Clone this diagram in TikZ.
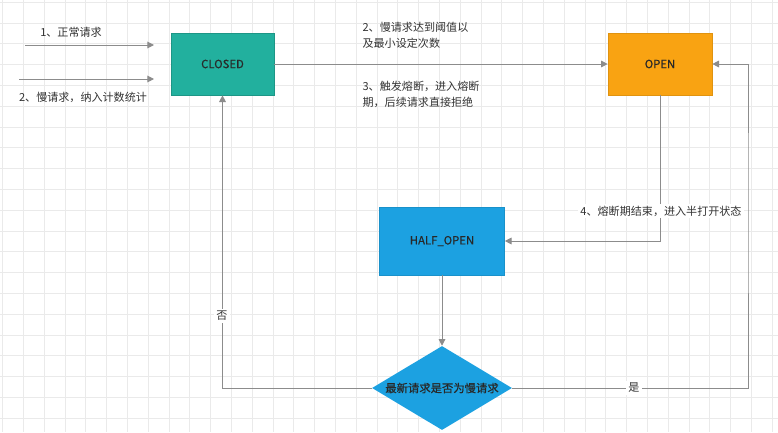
\documentclass[tikz,border=0pt]{standalone}
\usepackage{fontspec}
\setmainfont{Noto Sans CJK SC}
\newfontfamily\boxfont{Noto Sans CJK SC}[FakeBold=0.5]
\usetikzlibrary{shapes.geometric,arrows.meta}
\definecolor{gridc}{RGB}{234,234,234}
\definecolor{linec}{RGB}{140,140,140}
\definecolor{textc}{RGB}{51,51,51}
\definecolor{boxtextc}{RGB}{40,40,40}
\definecolor{closedc}{RGB}{34,176,158}
\definecolor{openc}{RGB}{249,163,18}
\definecolor{bluec}{RGB}{28,161,225}
\tikzset{
  gridline/.style={gridc, line width=0.6pt},
  conn/.style={linec, line width=0.75pt, -{Triangle[length=5pt,width=5pt]}},
  statebox/.style={rectangle, inner sep=0pt, text=boxtextc, font=\boxfont\fontsize{8.5pt}{10pt}\selectfont, line width=0.5pt},
  lbl/.style={text=textc, font=\fontsize{8.3pt}{12pt}\selectfont, inner sep=1pt},
  onlinelbl/.style={lbl, fill=white, inner sep=1.5pt},
}
\begin{document}
\begin{tikzpicture}[x=0.75pt, y=-0.75pt]
\useasboundingbox (0,0) rectangle (778,432);
\fill[white] (0,0) rectangle (778,432);
% grid
\foreach \i in {0,...,37} {
  \draw[gridline] ({2.5+20.8*\i},0) -- ({2.5+20.8*\i},432);
}
\foreach \j in {0,...,20} {
  \draw[gridline] (0,{2.1+20.8*\j}) -- (778,{2.1+20.8*\j});
}
% states
\node[statebox, fill=closedc, draw=closedc!85!black, minimum width=77.25pt, minimum height=46.5pt] (closed) at (222.5,64) {CLOSED};
\node[statebox, fill=openc, draw=openc!90!black, minimum width=78pt, minimum height=46.5pt] (open) at (660,64) {OPEN};
\node[statebox, fill=bluec, draw=bluec!90!black, minimum width=93.75pt, minimum height=51pt] (half) at (442,241) {HALF\_OPEN};
\node[diamond, fill=bluec, inner sep=0pt, minimum width=105pt, minimum height=63pt] (dec) at (442,388) {};
\node[text=boxtextc, font=\boxfont\fontsize{8.5pt}{10pt}\selectfont, inner sep=0pt] (dectext) at (dec.center) {最新请求是否为慢请求};
% inputs
\coordinate (in1s) at (25,45);
\coordinate (in1e) at (154,45);
\coordinate (in2s) at (19,79);
\coordinate (in2e) at (154,79);
\draw[conn] (in1s) -- (in1e);
\draw[conn] (in2s) -- (in2e);
\node[lbl] (l1) at (71,32) {1、正常请求};
\node[lbl] (l2) at (83,97) {2、慢请求，纳入计数统计};
% transitions
\draw[conn] (closed.east) -- (open.west);
\node[lbl, anchor=west, align=left] (l3) at (361,35) {2、慢请求达到阈值以\\及最小设定次数};
\node[lbl, anchor=west, align=left] (l4) at (361,94.5) {3、触发熔断，进入熔断\\期，后续请求直接拒绝};
\draw[conn] (open.south) |- (half.east);
\draw[conn] (half.south) -- (dec.north);
\draw[conn] (dec.west) -| (closed.south);
\coordinate (rc) at (748,200);
\draw[conn] (dec.east) -| (rc) |- (open.east);
% labels on lines
\node[onlinelbl] (l5) at (661,211) {4、熔断期结束，进入半打开状态};
\node[onlinelbl] (no) at (222,316) {否};
\node[onlinelbl] (yes) at (634,388) {是};
\end{tikzpicture}
\end{document}
